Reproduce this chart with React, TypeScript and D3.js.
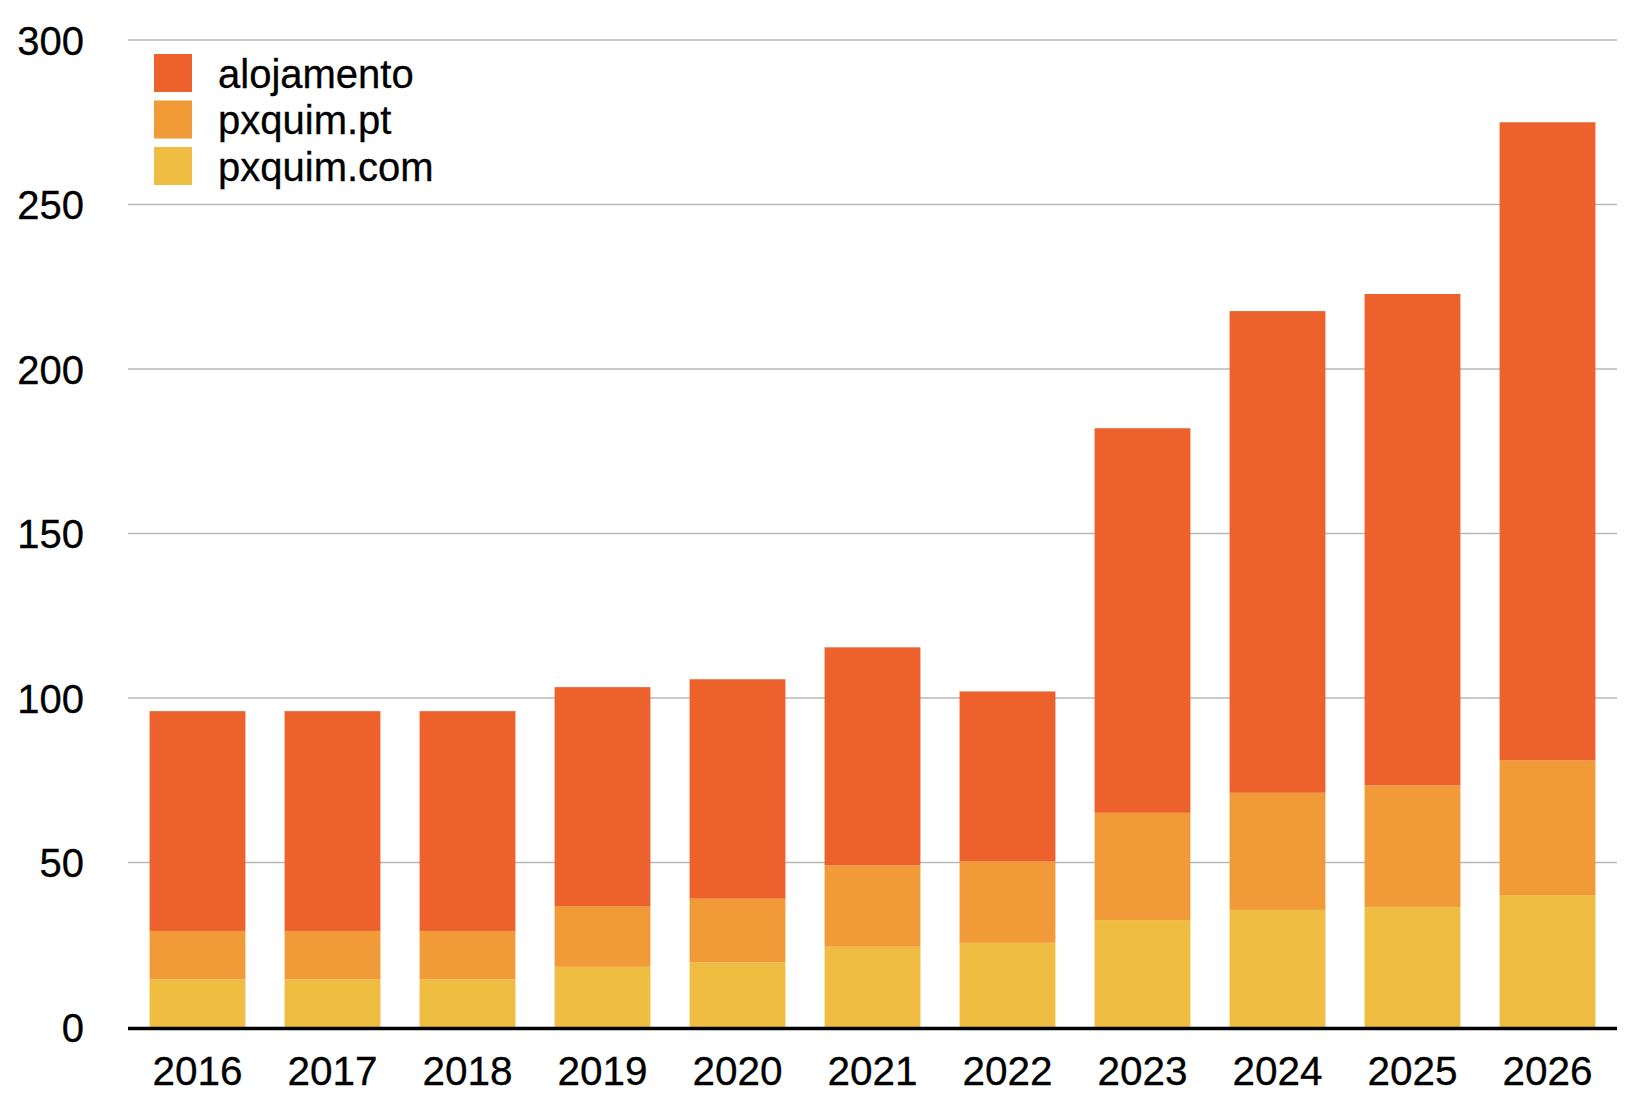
import { useRef, useEffect } from "react"
import * as d3 from "d3"

// values
const years = ["2016", "2017", "2018", "2019", "2020", "2021", "2022", "2023", "2024", "2025", "2026"]
const pxquimCom = [14.5, 14.5, 14.5, 18.3, 19.6, 24.4, 25.6, 32.5, 35.6, 36.5, 40.1]
const pxquimPt = [14.7, 14.7, 14.7, 18.3, 19.4, 24.7, 24.7, 32.6, 35.6, 36.9, 40.9]
const alojamento = [66.8, 66.8, 66.8, 66.7, 66.7, 66.3, 51.7, 116.9, 146.4, 149.4, 194]
const yTicks = [0, 50, 100, 150, 200, 250, 300]

const seriesNames = ["pxquim.com", "pxquim.pt", "alojamento"]
const seriesColors = ["#EFBD41", "#F09A38", "#EC612C"]
const legendOrder = ["alojamento", "pxquim.pt", "pxquim.com"]

export default function App() {
  const svgRef = useRef<SVGSVGElement>(null)

  useEffect(() => {
    if (!svgRef.current) return
    const svg = d3.select(svgRef.current)
    svg.selectAll("*").remove()

    const width = 1650
    const height = 1108
    const margin = { top: 40, right: 35, bottom: 81, left: 130 }
    const font = "'Liberation Sans', Helvetica, Arial, sans-serif"

    const rows = years.map((year, i) => ({
      year,
      "pxquim.com": pxquimCom[i],
      "pxquim.pt": pxquimPt[i],
      alojamento: alojamento[i],
    }))

    const x = d3
      .scaleBand()
      .domain(years)
      .range([margin.left, width - margin.right])
      .paddingInner(0.29)
      .paddingOuter(0.145)

    const y = d3
      .scaleLinear()
      .domain([0, 300])
      .range([height - margin.bottom, margin.top])

    const color = d3.scaleOrdinal<string>().domain(seriesNames).range(seriesColors)

    // Gridlines
    svg
      .append("g")
      .selectAll("line")
      .data(yTicks.filter((t) => t > 0))
      .join("line")
      .attr("x1", margin.left - 2)
      .attr("x2", width - margin.right + 2)
      .attr("y1", (d) => y(d))
      .attr("y2", (d) => y(d))
      .attr("stroke", "#b8b8b8")
      .attr("stroke-width", 1.5)

    // Stacked bars
    const stack = d3.stack<any>().keys(seriesNames)
    const layers = stack(rows)

    svg
      .append("g")
      .selectAll("g")
      .data(layers)
      .join("g")
      .attr("fill", (d) => color(d.key))
      .selectAll("rect")
      .data((d) => d)
      .join("rect")
      .attr("x", (d) => x(d.data.year)!)
      .attr("width", x.bandwidth())
      .attr("y", (d) => y(d[1]))
      .attr("height", (d) => y(d[0]) - y(d[1]))

    // Baseline
    svg
      .append("line")
      .attr("x1", margin.left - 2)
      .attr("x2", width - margin.right + 2)
      .attr("y1", y(0) + 1.6)
      .attr("y2", y(0) + 1.6)
      .attr("stroke", "#000")
      .attr("stroke-width", 3.5)

    // Y tick labels
    svg
      .append("g")
      .selectAll("text")
      .data(yTicks)
      .join("text")
      .attr("x", 84)
      .attr("y", (d) => y(d) + 14.5)
      .attr("text-anchor", "end")
      .attr("font-family", font)
      .attr("font-size", "40px")
      .attr("fill", "#000")
      .attr("stroke", "#000")
      .attr("stroke-width", 0.3)
      .text((d) => d)

    // X tick labels
    svg
      .append("g")
      .selectAll("text")
      .data(years)
      .join("text")
      .attr("x", (d) => x(d)! + x.bandwidth() / 2)
      .attr("y", 1085)
      .attr("text-anchor", "middle")
      .attr("font-family", font)
      .attr("font-size", "40.5px")
      .attr("fill", "#000")
      .attr("stroke", "#000")
      .attr("stroke-width", 0.3)
      .text((d) => d)

    // Legend
    const legend = svg.append("g").attr("transform", "translate(154, 54)")
    legendOrder.forEach((name, i) => {
      const row = legend.append("g").attr("transform", `translate(0, ${i * 46.5})`)
      row.append("rect").attr("width", 38).attr("height", 38).attr("fill", color(name))
      row
        .append("text")
        .attr("x", 64)
        .attr("y", 33.5)
        .attr("font-family", font)
        .attr("font-size", "40px")
        .attr("fill", "#000")
        .attr("stroke", "#000")
        .attr("stroke-width", 0.3)
        .text(name)
    })
  }, [])

  return (
    <svg
      ref={svgRef}
      width={1650}
      height={1108}
      style={{ position: "absolute", left: 0, top: 0, background: "#fff" }}
    />
  )
}
